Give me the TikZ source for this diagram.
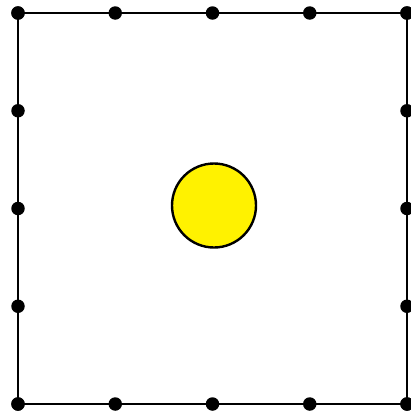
\documentclass[tikz,border=0pt]{standalone}
\usetikzlibrary{calc}
\begin{document}
\begin{tikzpicture}[x=1pt,y=-1pt,
  dotnode/.style={circle,fill=black,inner sep=0pt,minimum size=13.5pt},
  edge/.style={line width=2.7pt}]
\useasboundingbox (0,0) rectangle (411,415);
\fill[white] (0,0) rectangle (411,415);
% corners
\coordinate (c1) at (18,13);
\coordinate (c2) at (407,13);
\coordinate (c3) at (407,404);
\coordinate (c4) at (18,404);
\draw[edge] (c1) -- (c2) -- (c3) -- (c4) -- cycle;
\foreach \i in {0,1,2,3,4}{
  \node[dotnode] (t\i) at ($(c1)!\i/4!(c2)$) {};
  \node[dotnode] (b\i) at ($(c4)!\i/4!(c3)$) {};
  \node[dotnode] (l\i) at ($(c1)!\i/4!(c4)$) {};
  \node[dotnode] (r\i) at ($(c2)!\i/4!(c3)$) {};
}
\node[circle,draw=black,line width=2.4pt,fill=yellow,minimum size=84pt,inner sep=0pt] (sun) at (214,205.5) {};
\end{tikzpicture}
\end{document}
